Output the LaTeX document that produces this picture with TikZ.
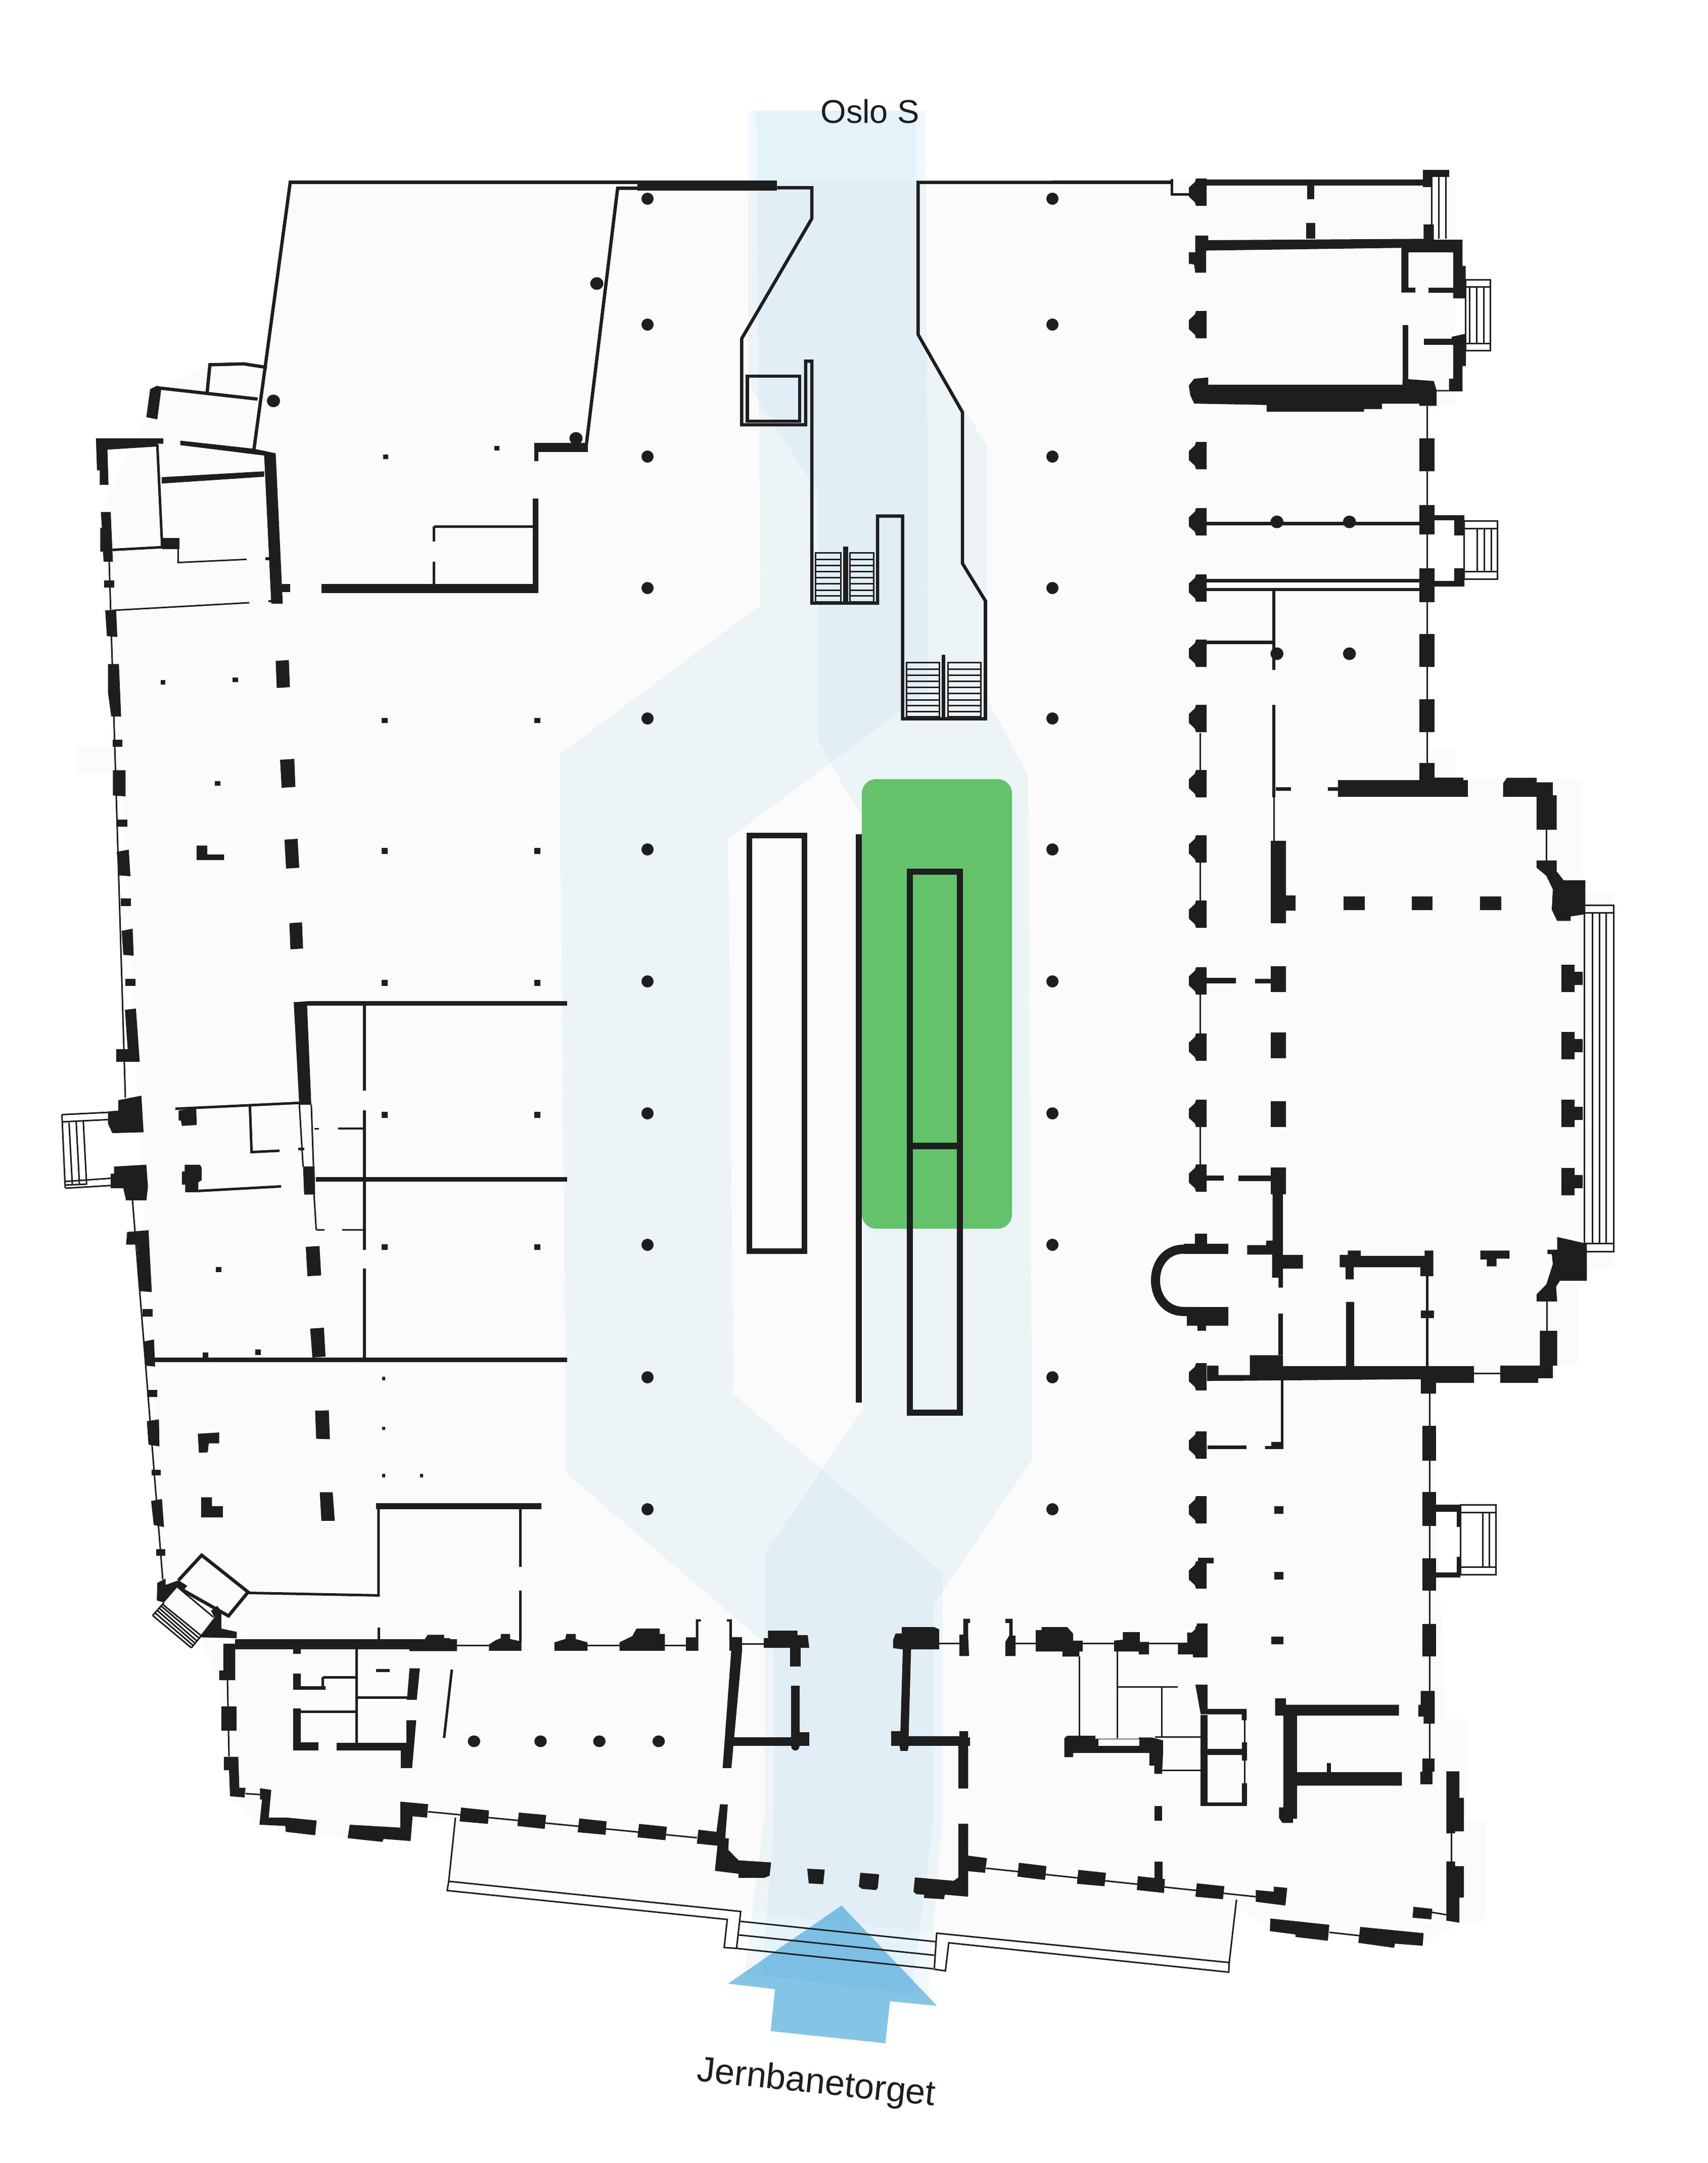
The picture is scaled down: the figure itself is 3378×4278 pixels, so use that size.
\documentclass[tikz,border=0pt]{standalone}
\usepackage{fontspec}
\setmainfont{Liberation Sans}
\usetikzlibrary{positioning}

\definecolor{ink}{HTML}{1E1E1E}
\definecolor{floorgrey}{HTML}{FBFBFB}
\definecolor{routeblue}{RGB}{140,200,232}
\definecolor{arrowblue}{RGB}{67,166,217}
\definecolor{roomgreen}{HTML}{63C26A}

\tikzset{
	cropnw/.style={shift={(0,200)},xscale=1.0842,yscale=.8929},
	cropne/.style={shift={(1700,200)},xscale=1.0702,yscale=.8929},
	cropw/.style={shift={(0,1600)},xscale=1.0842,yscale=.8929},
	cropmid/.style={shift={(1700,1500)},xscale=1.0702,yscale=.8929},
	cropsw/.style={shift={(200,2900)},xscale=1.0204,yscale=.8291},
	cropse/.style={shift={(1700,2700)},xscale=.9566,yscale=.8291},
	cropcore/.style={shift={(1300,150)},xscale=.5102,yscale=.8929},
	cropgate/.style={shift={(1300,2800)},xscale=.5102,yscale=.8929},
	walline/.style={draw=ink,line width=.065cm},
	midline/.style={draw=ink,line width=.05cm},
	thinline/.style={draw=ink,line width=.03cm},
	routezone/.style={fill=routeblue,fill opacity=.12},
	placename/.style={text=ink,font=\fontsize{18.5}{22}\selectfont,inner sep=0pt}
}

% filled wall outline, and a list of upright blocks
\newcommand\slab[1]{\fill plot coordinates {#1};}
\newcommand\blocks[1]{\foreach \xa/\ya/\xb/\yb in {#1} {\fill (\xa,\ya) rectangle (\xb,\yb);}}
\newcommand\thins[1]{\foreach \xa/\ya/\xb/\yb in {#1} {\draw[thinline] (\xa,\ya) -- (\xb,\yb);}}
\newcommand\colmarks[1]{\foreach \xa/\ya in {#1} {\fill (\xa,\ya) circle [x radius=12,y radius=14];}}

\begin{document}
\begin{tikzpicture}[x=.01cm,y=-.01cm,color=ink]
	\useasboundingbox (0,0) rectangle (3378,4278);
	\fill[white] (0,0) rectangle (3378,4278);

	% floor
	\fill[floorgrey] plot coordinates {(575,358) (2880,358) (2880,800) (2830,800) (2830,1480) (2880,1480) (2880,1540) (3130,1540) (3130,1765) (3193,1765) (3193,2510) (3120,2510) (3120,2700) (2830,2720) (2860,3400) (2900,3400) (2900,3600) (2940,3600) (2940,3800) (2887,3803) (2816,3848) (2513,3815) (2446,3770) (2432,3881) (1853,3823) (1465,3780) (888,3721) (901,3595) (690,3635) (513,3609) (455,3552) (434,3323) (394,3238) (302,3195) (322,3124) (240,1530) (152,1530) (152,1477) (225,1477) (206,1000) (287,825) (314,767) (417,720) (520,727)};

	% routes
	\fill[routezone] plot coordinates {(1480,219) (1812,219) (1816,662) (1953,882) (1953,1382) (2034,1535) (2042,2887) (1846,3175) (1846,3604) (1803,3947) (1473,3903) (1513,3586) (1513,3072) (1708,2786) (1708,1618) (1665,1550) (1619,1463) (1619,976) (1484,766) (1480,757)};
	\fill[routezone] plot coordinates {(1497,219) (1831,219) (1837,1365) (1441,1659) (1451,2757) (1865,3111) (1864,3604) (1836,3943) (1507,3907) (1531,3604) (1531,3264) (1300,3068) (1120,2913) (1107,1492) (1504,1197)};

	% exhibition space and entrance arrow
	\fill[roomgreen,rounded corners=.28cm] (1705,1541) rectangle (2002,2430);
	\begin{scope}[cropgate]
		\fill[arrowblue,fill opacity=.65] plot coordinates {(715,1085) (1085,1307) (903,1297) (885,1390) (440,1363) (457,1270) (275,1258)};
	\end{scope}

	% columns
	\foreach \py in {393,642,903,1163,1421,1680,1941,2202,2462,2724,2985} {
		\fill (1281,\py) circle (12);
		\fill (2082,\py) circle (12);
	}
	\foreach \py in {380,642,901,1032,1163,1292,1421,1550,1679,1808,1940,2071,2202,2330,2723,2858,2986,3115,3243} {
		\fill (2387,\py-27) -- (2387,\py+27) -- (2366,\py+27) -- (2364,\py+20) -- (2352,\py+9) -- (2352,\py-9) -- (2364,\py-20) -- (2366,\py-27) -- cycle;
	}
	\foreach \py in {1935,2068,2202,2337} {
		\fill (3089,\py-27) -- (3115,\py-27) -- (3115,\py-13) -- (3131,\py-13) -- (3131,\py+13) -- (3115,\py+13) -- (3115,\py+27) -- (3089,\py+27) -- cycle;
	}

	% escalator voids
	\draw[line width=.11cm] (1482,1652) rectangle (1591,2474);
	\fill (1693,1650) rectangle (1705,2774);
	\draw[line width=.12cm] (1800,1724) rectangle (1899,2794);
	\fill (1800,2260) rectangle (1899,2273);

	% west outer line
	\draw[thinline] (216,1111) -- (248,2171);
	\draw[thinline] (262,2373) -- (322,3124);

	% north west
	\begin{scope}[cropnw]
		\draw[walline] (530,180) -- (1165,180);
		\draw[walline] (530,176) -- (463,775);
		\draw[walline] (1070,760) -- (1127,193) -- (1165,193);
		\blocks{1163/176/1418/198,975/757/1073/777,975/757/982/797,699/783/708/793,902/764/911/774,296/968/327/992,484/1010/495/1017,190/1062/208/1077,206/1415/223/1430,587/1070/982/1090,515/1070/529/1088,972/880/982/1070,696/1366/707/1378,975/1366/986/1378,293/1282/302/1292,424/1277/434/1287,392/1506/402/1516,490/1105/497/1110}
		\colmarks{1089/404,499/664,1051/747}
		\draw[walline] (487,590) -- (445,582) -- (383,584) -- (378,645);
		\draw[walline] (287,635) -- (470,660);
		\draw[midline] (287,760) -- (296,990);
		\draw[midline] (205,994) -- (296,988);
		\draw[midline] (792,942) -- (972,942);
		\draw[midline] (792,942) -- (792,975);
		\draw[midline] (792,1020) -- (792,1070);
		\draw[thinline] (325,992) -- (325,1022) -- (450,1015);
		\draw[thinline] (205,1128) -- (455,1111);
		\slab{(274,638) (287,630) (294,640) (287,705) (267,700)}
		\slab{(463,770) (503,780) (516,1113) (495,1113) (482,785) (329,762) (329,752)}
		\slab{(295,833) (482,820) (482,832) (295,847)}
		\slab{(175,747) (298,747) (298,759) (287,759) (287,765) (196,772) (198,850) (182,850) (182,818) (177,818)}
		\slab{(184,910) (202,910) (206,1020) (189,1020) (188,998) (183,998) (183,945) (186,945)}
		\slab{(192,1128) (212,1128) (214,1187) (195,1185)}
		\slab{(197,1247) (217,1247) (221,1363) (203,1363) (197,1310)}
		\slab{(206,1482) (229,1482) (229,1540) (206,1538)}
		\slab{(503,1240) (527,1238) (529,1298) (505,1300)}
		\slab{(511,1459) (537,1457) (539,1519) (514,1521)}
	\end{scope}

	% north corridor
	\begin{scope}[cropcore]
		\draw[walline] (465,248) -- (600,248) -- (600,316) -- (328,582) -- (328,773) -- (576,773) -- (576,632) -- (600,632) -- (600,1168) -- (855,1168) -- (855,975) -- (952,975) -- (952,1424) -- (1273,1424) -- (1273,1163) -- (1184,1080) -- (1184,745) -- (1012,573) -- (1012,236) -- (1568,236);
		\draw[walline] (350,665) rectangle (553,765);
		\fill (721,1043) rectangle (740,1168);
		\fill (1103,1282) rectangle (1117,1422);
		\draw[thinline] (615,1057) rectangle (712,1165);
		\draw[thinline] (748,1057) rectangle (840,1165);
		\draw[thinline] (968,1300) rectangle (1095,1420);
		\draw[thinline] (1127,1300) rectangle (1255,1420);
		\foreach \ty in {1071,1085,1098,1112,1125,1139,1152} {
			\draw[thinline] (615,\ty) -- (712,\ty);
			\draw[thinline] (748,\ty) -- (840,\ty);
		}
		\foreach \ty in {1314,1328,1341,1355,1368,1382,1395,1408} {
			\draw[thinline] (968,\ty) -- (1095,\ty);
			\draw[thinline] (1127,\ty) -- (1255,\ty);
		}
	\end{scope}

	% north east
	\begin{scope}[cropne]
		\draw[walline] (357,180) -- (578,180);
		\draw[midline] (578,172) -- (578,207) -- (610,207);
		\blocks{640/174/1045/187,828/187/841/217,826/270/843/305,1042/152/1090/168,1042/152/1058/190,1052/413/1098/424,1004/496/1015/628,1044/526/1098/540,640/932/1035/940,640/1058/1035/1066,640/1078/1035/1085,763/1085/769/1260,763/1337/769/1500,640/1195/763/1203,1035/747/1063/820,1035/1180/1063/1253,1035/1325/1063/1398,1035/895/1063/960,1063/917/1118/928,1100/928/1118/962,1035/1035/1063/1110,1063/1063/1118/1075,1100/1035/1118/1075}
		\thins{1058/168/1058/305,1071/168/1071/305,1084/168/1084/305,1050/675/1050/1500,630/1400/630/1480}
		\draw[thinline] (1121,396) rectangle (1167,553);
		\thins{1121/412/1167/412,1121/537/1167/537,1128/412/1128/537,1141/412/1141/537,1154/412/1154/537}
		\draw[thinline] (1118,930) rectangle (1180,1059);
		\thins{1118/947/1180/947,1118/1042/1180/1042,1142/947/1142/1042,1155/947/1155/1042,1168/947/1168/1042}
		\slab{(621,298) (645,298) (645,308) (1043,305) (1043,273) (1062,273) (1062,307) (1115,307) (1115,365) (1121,365) (1121,437) (1098,437) (1098,335) (1015,335) (1015,413) (1028,413) (1028,424) (1002,424) (1002,325) (641,331) (641,380) (621,380) (619,362) (609,360) (609,335) (621,335)}
		\slab{(1095,522) (1122,515) (1121,587) (1115,587) (1115,643) (1090,643) (1090,615) (1098,615) (1098,540) (1095,540)}
		\slab{(609,630) (619,615) (645,612) (645,628) (1004,628) (1004,615) (1062,620) (1067,640) (1090,640) (1090,643) (1067,643) (1067,675) (1035,675) (1035,670) (966,670) (966,682) (933,682) (933,688) (753,688) (753,673) (619,670) (612,652)}
		\colmarks{772/932,906/932,772/1224,906/1224}
	\end{scope}

	% west
	\begin{scope}[cropw]
		\blocks{696/86/707/100,975/86/986/100,696/379/707/392,975/379/986/392,696/671/707/684,975/671/986/684,696/964/707/977,975/964/986/977,394/1015/404/1026,370/1204/380/1216,466/1197/476/1210,697/1258/703/1266,697/1368/703/1375,697/1473/703/1481,766/1473/772/1481,213/23/232/39,220/198/239/215,229/376/247/392,260/1108/279/1124,268/1287/287/1302,560/426/1035/436,662/436/668/624,662/668/668/976,662/1018/668/1215,576/815/1035/825,282/1215/1035/1225,544/750/555/756,574/707/582/710,617/706/662/710}
		\slab{(213,95) (235,90) (238,149) (217,147)}
		\slab{(222,270) (242,265) (244,325) (225,323)}
		\slab{(228,445) (248,442) (255,560) (212,560) (212,532) (233,532)}
		\slab{(216,645) (258,635) (262,716) (205,718) (197,697) (197,670) (216,668)}
		\slab{(208,792) (267,788) (270,837) (267,867) (230,867) (225,840) (202,840) (202,808) (208,808)}
		\slab{(232,937) (271,933) (277,1070) (255,1068) (250,965) (230,965)}
		\slab{(261,1180) (281,1175) (283,1235) (265,1233)}
		\slab{(268,1356) (290,1352) (291,1412) (271,1408)}
		\slab{(519,68) (543,66) (546,130) (522,132)}
		\slab{(528,253) (551,251) (553,309) (530,311)}
		\slab{(558,970) (583,968) (586,1033) (561,1035)}
		\slab{(566,1151) (591,1149) (594,1213) (570,1215)}
		\slab{(575,1333) (600,1332) (602,1396) (577,1395)}
		\slab{(359,81) (378,81) (378,101) (409,101) (409,113) (359,113)}
		\slab{(361,1384) (400,1381) (400,1405) (381,1405) (379,1425) (363,1426)}
		\slab{(536,428) (560,426) (568,655) (546,655)}
		\slab{(326,668) (358,662) (359,700) (332,702) (330,690) (326,690)}
		\slab{(337,788) (365,788) (368,795) (368,822) (362,827) (362,849) (338,849) (338,832) (332,832) (332,803) (337,803)}
		\slab{(553,792) (574,792) (575,854) (555,854)}
		\draw[midline] (320,664) -- (546,651);
		\draw[midline] (456,658) -- (459,760) -- (510,757);
		\draw[midline] (362,846) -- (513,836);
		\thins{546/650/553/792,568/655/572/792,573/854/577/932,577/932/592/932,624/932/662/932,113/677/197/672,114/693/197/688,120/825/202/818,120/840/202/834,113/677/119/840,126/695/132/833,139/693/145/832,152/692/158/832,120/833/158/831}
	\end{scope}

	% east hall
	\begin{scope}[cropmid]
		\blocks{761/183/789/365,789/303/806/337,895/306/934/336,1021/306/1060/336,1147/306/1187/336,642/486/696/498,732/488/761/498,761/460/789/517,761/607/789/664,761/759/789/816,642/924/674/935,701/924/761/936,761/906/789/965,885/48/1125/85,1035/10/1063/48,1063/43/1117/48,866/64/886/72,770/64/798/72,763/0/769/86,620/1053/643/1075,605/1215/682/1257,625/1257/641/1268,600/1075/682/1098,900/1204/915/1347,775/1230/783/1322,1047/1147/1052/1350,1038/1223/1062/1240}
		\thins{767/85/767/183,630/0/630/30,630/230/630/315,630/523/630/610,630/815/630/900,1270/158/1270/226,1136/1362/1185/1362,1271/1203/1271/1268}
		\draw[line width=.18cm] (682,1087) -- (600,1087) .. controls (530,1087) and (530,1225) .. (600,1225) -- (620,1225);
		\slab{(717,1078) (752,1078) (752,1068) (764,1068) (764,965) (783,965) (783,1100) (820,1100) (820,1130) (783,1130) (783,1172) (775,1172) (775,1150) (763,1150) (763,1099) (717,1099)}
		\slab{(1190,55) (1197,43) (1252,43) (1252,53) (1282,53) (1282,82) (1289,82) (1289,158) (1252,158) (1252,85) (1190,85)}
		\slab{(1252,226) (1289,226) (1289,250) (1302,270) (1342,270) (1342,345) (1315,350) (1315,360) (1290,360) (1280,335) (1282,290) (1270,260) (1252,242)}
		\slab{(1290,1060) (1345,1075) (1345,1157) (1295,1157) (1288,1170) (1290,1203) (1252,1203) (1252,1187) (1270,1165) (1282,1120) (1280,1098) (1272,1098) (1272,1088) (1290,1088)}
		\slab{(888,1100) (903,1100) (903,1090) (927,1090) (927,1102) (1045,1102) (1045,1090) (1061,1090) (1061,1147) (1037,1147) (1037,1127) (914,1127) (914,1154) (899,1154) (899,1127) (888,1127)}
		\slab{(1148,1090) (1202,1090) (1202,1108) (1178,1108) (1178,1125) (1160,1125) (1160,1110) (1148,1110)}
		\slab{(643,1345) (664,1345) (664,1366) (722,1366) (722,1322) (783,1322) (783,1346) (1136,1346) (1136,1383) (1066,1383) (1066,1407) (1038,1407) (1038,1375) (643,1379)}
		\slab{(1185,1345) (1258,1345) (1258,1268) (1290,1268) (1290,1345) (1282,1345) (1282,1373) (1255,1373) (1255,1383) (1185,1383)}
		\draw[thinline] (1340,325) rectangle (1395,1093);
		\thins{1340/342/1395/342,1340/1075/1395/1075,1355/342/1355/1075,1368/342/1368/1075,1381/342/1381/1075}
	\end{scope}

	% south west
	\begin{scope}[cropsw]
		\blocks{98/8/116/22,107/198/124/213,545/18/551/27,618/18/624/27,260/412/690/437,372/437/387/447,233/573/263/631,533/88/854/103,536/385/541/412,810/100/815/240,810/297/815/420,533/484/560/491,372/495/387/533,372/525/435/533,372/578/387/678,372/658/421/678,457/660/592/678,1226/647/1345/667,1336/433/1356/478,1338/524/1354/660,1345/634/1373/667,1218/408/1243/440}
		\colmarks{723/656,852/656,966/656,1081/656}
		\slab{(97,83) (118,78) (122,145) (102,140)}
		\slab{(424,62) (449,62) (453,130) (427,130)}
		\slab{(194,74) (215,74) (215,95) (236,95) (236,122) (194,122)}
		\slab{(109,278) (125,268) (125,283) (150,272) (167,285) (158,298) (148,288) (122,325) (108,320)}
		\slab{(225,333) (233,345) (233,387) (263,395) (263,410) (190,408) (220,360) (213,345)}
		\slab{(628,412) (633,402) (665,402) (665,410) (675,410) (688,420) (690,441) (598,441) (598,430)}
		\slab{(237,423) (260,423) (260,510) (229,510) (229,487) (237,487)}
		\slab{(238,693) (266,693) (268,767) (280,767) (278,790) (250,787) (248,725) (238,725)}
		\slab{(308,768) (330,772) (325,838) (360,838) (418,845) (415,880) (358,872) (357,858) (307,855) (312,795) (308,795)}
		\slab{(482,855) (580,862) (580,800) (634,806) (632,838) (604,835) (600,894) (548,889) (545,896) (478,887)}
		\slab{(698,814) (752,821) (750,853) (695,847)}
		\slab{(810,826) (863,832) (860,865) (807,858)}
		\slab{(927,840) (980,847) (978,879) (924,873)}
		\slab{(1043,853) (1097,860) (1094,892) (1040,885)}
		\slab{(1200,806) (1215,807) (1210,887) (1217,888) (1216,915) (1236,940) (1299,945) (1296,977) (1285,982) (1236,982) (1236,972) (1190,965) (1195,905) (1155,900) (1158,867) (1193,872)}
		\slab{(1369,960) (1403,962) (1400,997) (1372,995)}
		\slab{(1472,970) (1507,973) (1503,1011) (1475,1008) (1469,1002)}
		\slab{(1205,720) (1222,720) (1243,435) (1222,435)}
		\slab{(1285,410) (1293,410) (1293,392) (1350,392) (1350,403) (1370,403) (1373,433) (1285,433)}
		\slab{(1213,365) (1223,365) (1223,410) (1218,410) (1218,370) (1213,370)}
		\slab{(1134,408) (1153,408) (1153,365) (1163,365) (1163,370) (1158,370) (1158,440) (1134,440)}
		\slab{(752,440) (752,425) (765,415) (775,410) (775,400) (793,400) (793,412) (815,418) (815,440)}
		\slab{(879,440) (879,420) (900,412) (902,400) (920,400) (920,412) (943,420) (943,440)}
		\slab{(1005,440) (1005,420) (1030,405) (1038,387) (1083,387) (1083,400) (1093,400) (1093,440)}
		\slab{(598,482) (618,482) (612,557) (593,557)}
		\slab{(592,606) (611,606) (603,720) (581,720) (581,677) (592,660)}
		\fill (1346,668) circle [x radius=8,y radius=10];
		\draw[midline] (538,92) -- (538,308) -- (285,302);
		\draw[walline] (150,272) -- (195,212) -- (285,300) -- (247,357) -- (158,295);
		\draw[midline] (430,503) -- (495,503);
		\draw[midline] (495,437) -- (495,660);
		\draw[midline] (498,552) -- (600,552);
		\draw[midline] (387,585) -- (495,585);
		\draw[midline] (665,648) -- (680,485);
		\draw[midline] (430,503) -- (430,525);
		\thins{245/510/248/692,280/781/308/783,634/824/1155/886,688/428/752/428,942/428/1005/428,1093/428/1134/428,1243/424/1285/424,148/288/218/360,122/325/100/356,100/356/175/433,175/433/197/400,120/330/195/405,117/334/190/410,113/339/185/416,109/344/181/421,105/350/178/427}
		\draw[thinline] (687,838) -- (674,990) -- (1240,1062) -- (1232,1150) -- (1208,1148) -- (1214,1081) -- (671,1012) -- (674,990);
	\end{scope}

	% south east
	\begin{scope}[cropse]
		\blocks{700/460/733/473,1165/145/1193/228,1165/303/1193/383,1165/461/1193/538,1165/617/1193/695,1165/938/1190/970,1160/970/1185/1000,1193/333/1243/350,1236/350/1243/386,1193/495/1243/507,1236/457/1243/495,858/337/877/355,858/493/877/511,852/648/877/666,610/1052/626/1087,610/1184/627/1225,706/835/720/1052,706/1043/801/1052,706/915/801/930,791/900/802/943,791/998/802/1050,967/949/975/971,720/192/801/200}
		\draw[midline] (874,36) -- (874,190);
		\thins{1180/68/1180/778,1180/855/1180/938,165/664/207/664,323/664/365/664,462/664/527/664,599/664/660/664,455/695/455/885,534/683/534/890,534/768/659/768,626/768/626/888,612/887/707/887,626/967/707/967,797/847/797/1000,1225/1117/1225/1184,1183/1305/1214/1311,262/1200/820/1268,972/1353/1035/1361,780/1275/765/1425}
		\draw[thinline] (1243,334) rectangle (1317,500);
		\thins{1243/352/1317/352,1243/482/1317/482,1289/352/1289/482,1303/352/1303/482}
		\draw[thinline] (160,1355) -- (765,1425) -- (764,1448) -- (185,1378) -- (178,1445) -- (155,1441) -- cycle;
		\slab{(839,193) (852,193) (852,183) (877,183) (877,200) (839,200)}
		\slab{(1161,777) (1190,777) (1190,855) (1167,855) (1167,838) (1156,838) (1156,810) (1161,810)}
		\slab{(70,655) (75,640) (88,640) (88,625) (155,625) (165,630) (165,678) (107,678) (102,885) (207,885) (207,873) (225,873) (225,888) (229,888) (229,908) (225,908) (225,1010) (205,1010) (205,908) (102,908) (100,920) (85,920) (83,908) (66,908) (66,873) (85,873) (90,678) (70,675)}
		\slab{(207,643) (215,643) (215,605) (229,605) (229,615) (225,615) (225,643) (227,694) (207,694)}
		\slab{(302,605) (317,605) (317,645) (323,645) (323,694) (302,694) (302,660) (310,645) (310,615) (302,615)}
		\slab{(365,632) (377,632) (377,625) (430,625) (442,640) (442,657) (462,657) (462,683) (455,683) (455,695) (420,695) (420,683) (365,683)}
		\slab{(527,657) (545,655) (545,637) (580,637) (580,660) (599,660) (599,690) (578,690) (578,683) (527,683)}
		\slab{(659,662) (678,662) (678,638) (698,638) (698,616) (720,616) (720,697) (690,697) (690,690) (659,690)}
		\slab{(424,890) (430,884) (488,884) (488,891) (578,891) (578,888) (605,888) (628,895) (628,930) (626,975) (610,975) (610,955) (600,955) (600,925) (442,925) (442,935) (424,935)}
		\fill[floorgrey] (494,893) rectangle (579,908);
		\slab{(695,762) (720,762) (720,820) (801,820) (801,847) (791,847) (791,833) (706,833)}
		\slab{(860,795) (882,795) (882,810) (1116,810) (1116,836) (905,836) (905,971) (1122,971) (1122,1003) (905,1003) (905,1082) (897,1082) (897,1092) (875,1092) (868,1080) (868,1055) (877,1055) (877,836) (860,836)}
		\slab{(1214,969) (1241,969) (1241,1032) (1250,1032) (1250,1112) (1232,1112) (1232,1117) (1214,1117)}
		\slab{(1214,1184) (1232,1184) (1232,1195) (1250,1195) (1250,1270) (1241,1270) (1241,1330) (1214,1325)}
		\slab{(1146,1292) (1185,1297) (1183,1322) (1144,1318)}
		\slab{(2,1211) (41,1215) (38,1249) (0,1245)}
		\slab{(115,1222) (195,1230) (205,1222) (205,1094) (225,1094) (225,1170) (264,1176) (260,1211) (225,1207) (225,1268) (177,1263) (175,1274) (134,1271) (134,1263) (118,1262) (112,1256)}
		\slab{(330,1187) (387,1195) (384,1228) (327,1220)}
		\slab{(453,1204) (510,1211) (507,1243) (450,1237)}
		\slab{(576,1219) (632,1226) (630,1259) (574,1252)}
		\slab{(698,1236) (755,1243) (752,1274) (695,1268)}
		\slab{(820,1252) (857,1256) (857,1244) (885,1247) (881,1289) (820,1280)}
		\slab{(850,1320) (972,1335) (969,1373) (902,1364) (902,1358) (849,1350)}
		\slab{(1036,1340) (1167,1355) (1165,1385) (1108,1380) (1106,1390) (1032,1378)}
	\end{scope}

	% entrance steps
	\begin{scope}[cropgate]
		\thins{323/1120/1080/1165,315/1150/1075/1195,310/1180/1070/1225}
	\end{scope}

	\node[placename] (oslo) at (1721,220) {Oslo S};
	\node[placename,rotate=-6,font=\fontsize{20}{24}\selectfont] (jernbanetorget) at (1615,4122) {Jernbanetorget};
\end{tikzpicture}
\end{document}
